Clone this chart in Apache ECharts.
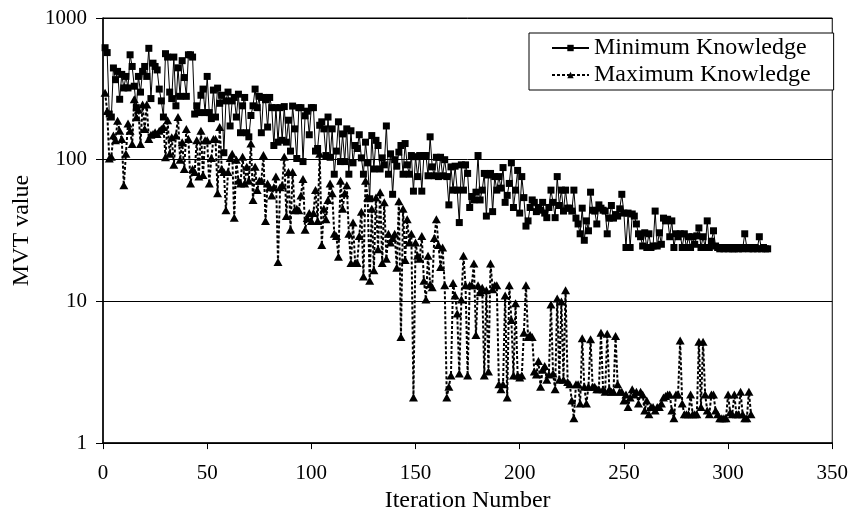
<!DOCTYPE html>
<html>
<head>
<meta charset="utf-8">
<script src="https://cdn.jsdelivr.net/npm/echarts@6/dist/echarts.min.js"></script>
<style>
  html, body { margin: 0; padding: 0; background: #fff; }
  #chart { width: 851px; height: 518px; }
</style>
</head>
<body>
<div id="chart"></div>
<script>
// MVT value per iteration (iteration numbers start at 1)
const minKnowledge = [
  617, 570, 210, 200, 444, 367, 420, 267, 400, 321, 387, 321, 550, 455, 330, 233, 387, 300, 420, 455, 387,
  611, 270, 480, 455, 430, 315, 260, 200, 560, 530, 300, 270, 530, 240, 445, 280, 500, 380, 280, 550,
  550, 530, 210, 240, 215, 285, 315, 215, 387, 215, 195, 310, 200, 320, 250, 285, 112, 260, 300, 173, 260,
  275, 200, 290, 155, 240, 275, 155, 145, 205, 240, 315, 233, 280, 155, 275, 265, 170, 275, 233, 126,
  233, 133, 233, 137, 237, 133, 190, 115, 239, 165, 102, 233, 233, 97, 204, 220, 150, 233, 233, 115,
  120, 175, 185, 165, 107, 200, 104, 165, 79, 115, 185, 97, 152,
  97, 165, 79, 160, 95, 126, 120, 150, 103, 79, 133, 95, 53, 148, 86, 137, 126, 86, 103, 92, 173, 79,
  110, 57, 100, 90, 113, 126, 79, 130, 92, 79, 107, 60, 105, 76, 107, 60, 107, 107, 77, 145, 89, 77,
  104, 76, 104, 77, 100, 76, 48, 89,
  61, 90, 61, 36, 92, 61, 92, 80, 46, 55, 52, 59, 107, 52, 61, 80, 40, 78, 80, 43, 76, 61, 76, 63, 88,
  50, 56, 68, 95, 46, 61, 84, 42, 76, 54, 34, 37, 46, 52, 50, 43, 46, 44, 50, 42, 39, 46, 61, 50, 39, 76,
  47.5, 61, 43.4, 61, 45.5, 45.5, 43.4, 61, 38.7, 35.2, 30, 45.5, 27, 37, 31.5, 59, 44, 43.4, 35.2, 48,
  45.5, 44, 43.4, 30, 38.7, 47.5, 38.7, 41, 40, 45, 57, 42, 24, 42, 24, 41.4, 40, 35.2, 30, 28.6, 24.6,
  30.5, 24, 30, 24, 24.6, 43.4, 24.6, 30.5, 25.3, 38.7, 37,
  38, 28.6, 37, 24, 30, 28.6, 30, 24, 30, 24, 28.6, 24, 28.6, 25.3, 29, 33, 24, 28.6, 24, 37, 24, 26.6,
  31.5, 24.6, 24, 23.5, 24, 23.5, 24, 23.5, 24, 23.5, 23.5, 24, 23.5, 24, 23.5, 30, 24, 23.5, 24, 23.5,
  24, 23.5, 28.6, 23.5, 24, 23.5, 23.5
];

const maxKnowledge = [
  297, 221, 102, 105, 148, 137, 188, 160, 140, 66, 110, 180, 160, 129, 267, 199, 225, 129, 245, 165, 245,
  140, 150, 152, 156, 152, 160, 165, 170, 104, 190, 110, 144, 92, 148, 200, 100, 133, 86, 165, 140,
  68, 86, 82, 137, 76, 160, 78, 137, 137, 68, 103, 140, 140, 58, 170, 86, 82, 44, 82, 103, 110,
  39, 100, 71, 68, 105, 68, 89, 71, 130, 52, 89, 61, 71, 71, 108, 37, 68, 64, 56, 64, 76, 19, 64, 66,
  105, 40, 82, 32, 82, 44, 45, 44, 56, 73, 32, 38.7, 42, 37, 42, 61, 37, 110, 25, 45, 38, 52, 68, 58,
  30, 29, 20.7, 71, 45,
  58, 66, 30, 18.7, 36, 18.7, 18.7, 29, 43, 15, 71, 54, 14, 45, 16.6, 54, 23.3, 59, 18.7, 50, 20, 30,
  26, 28, 30, 17.3, 51, 5.6, 45, 19.6, 38, 26, 30, 2.1, 26, 21, 20, 29, 14, 10.3, 21, 13.2, 12.6, 28,
  38, 25, 17.5, 24, 13, 2.1, 2.5, 3.0,
  13.5, 11, 8.2, 3.1, 10.3, 21, 13, 3.0, 13, 13, 18.5, 5.8, 13, 11.6, 12.5, 3.0, 12, 3.2, 18.5, 12.2,
  13, 13, 2.6, 2.4, 2.6, 11, 2.1, 13, 7.4, 3.0, 9.7, 3.0, 2.9, 3.0, 6.0, 13, 5.6, 5.8, 5.6, 3.2, 3.05,
  3.8, 2.5, 3.3, 3.5, 2.8, 3.05, 9.5, 3.1, 2.4, 10.5, 2.8, 10, 2.8, 12, 2.7, 2.6, 2.0, 1.5,
  2.6, 2.6, 1.9, 5.5, 2.5, 1.9, 2.5, 5.4, 2.5, 2.5, 2.4, 2.4, 6.0, 2.4, 2.3, 5.9, 2.4, 2.3, 2.3, 5.7,
  2.6, 2.3, 2.3, 2.0, 2.2, 1.8, 2.1, 2.4, 2.2, 2.3, 1.9, 2.3, 2.2, 1.7, 2.0, 1.6, 1.8, 1.8, 1.7, 1.8,
  1.8, 1.9, 2.1, 2.15, 2.2, 2.2, 1.7, 1.5, 2.2, 2.2, 5.3, 1.9, 1.6, 1.6, 1.6, 2.2, 1.6, 1.6, 1.6, 5.2,
  1.8, 5.2, 2.2, 1.7, 1.6, 2.2, 2.2, 1.7, 1.6, 1.5, 1.5, 1.5, 1.5, 2.2, 1.65, 1.6, 2.2, 1.6, 1.6, 2.3,
  1.6, 1.5, 1.5, 2.3, 1.6
];

const seriesNames = ['Minimum Knowledge', 'Maximum Knowledge'];
const xTicks = { min: 0, max: 350, step: 50 };
const yTicks = { min: 1, max: 1000 };

const font = 'Liberation Serif';

function toPairs(arr) {
  return arr.map((v, i) => [i + 1, v]);
}

let myChart = echarts.init(document.getElementById('chart'));
myChart.setOption({
  animation: false,
  backgroundColor: '#fff',
  textStyle: { fontFamily: font, color: '#000' },
  grid: {
    left: 103,
    right: 18,
    top: 18,
    bottom: 70,
    show: true,
    borderColor: '#000',
    borderWidth: 1
  },
  legend: {
    data: seriesNames,
    orient: 'vertical',
    left: 529,
    top: 33,
    itemWidth: 37,
    itemHeight: 8,
    itemGap: 3,
    padding: [3, 23, 3, 22],
    borderColor: '#000',
    borderWidth: 1,
    backgroundColor: '#fff',
    textStyle: { fontFamily: font, fontSize: 24, lineHeight: 24, color: '#000' }
  },
  xAxis: {
    type: 'value',
    min: xTicks.min,
    max: xTicks.max,
    interval: xTicks.step,
    name: 'Iteration Number',
    nameLocation: 'middle',
    nameGap: 44,
    nameTextStyle: { fontFamily: font, fontSize: 24, color: '#000' },
    axisLine: { show: true, lineStyle: { color: '#000', width: 1.5 } },
    axisTick: { show: true, length: 6, lineStyle: { color: '#000' } },
    axisLabel: { fontFamily: font, fontSize: 21, color: '#000', margin: 20 },
    splitLine: { show: false }
  },
  yAxis: {
    type: 'log',
    logBase: 10,
    min: yTicks.min,
    max: yTicks.max,
    name: 'MVT value',
    nameLocation: 'middle',
    nameGap: 66,
    nameTextStyle: { fontFamily: font, fontSize: 24, color: '#000' },
    axisLine: { show: true, lineStyle: { color: '#000', width: 1.5 } },
    axisTick: { show: true, length: 7, lineStyle: { color: '#000' } },
    axisLabel: {
      fontFamily: font, fontSize: 21, color: '#000', margin: 16,
      formatter: function (v) { return String(Math.round(v)); }
    },
    splitLine: { show: true, lineStyle: { color: '#000', width: 1 } },
    minorTick: { show: false },
    minorSplitLine: { show: false }
  },
  series: [
    {
      name: seriesNames[0],
      type: 'line',
      data: toPairs(minKnowledge),
      symbol: 'rect',
      symbolSize: 7,
      showAllSymbol: true,
      itemStyle: { color: '#000' },
      lineStyle: { color: '#000', width: 1 },
      z: 3
    },
    {
      name: seriesNames[1],
      type: 'line',
      data: toPairs(maxKnowledge),
      symbol: 'triangle',
      symbolSize: [9, 8],
      showAllSymbol: true,
      itemStyle: { color: '#000' },
      lineStyle: { color: '#000', width: 2, type: [3, 2] },
      z: 2
    }
  ]
});
</script>
</body>
</html>
